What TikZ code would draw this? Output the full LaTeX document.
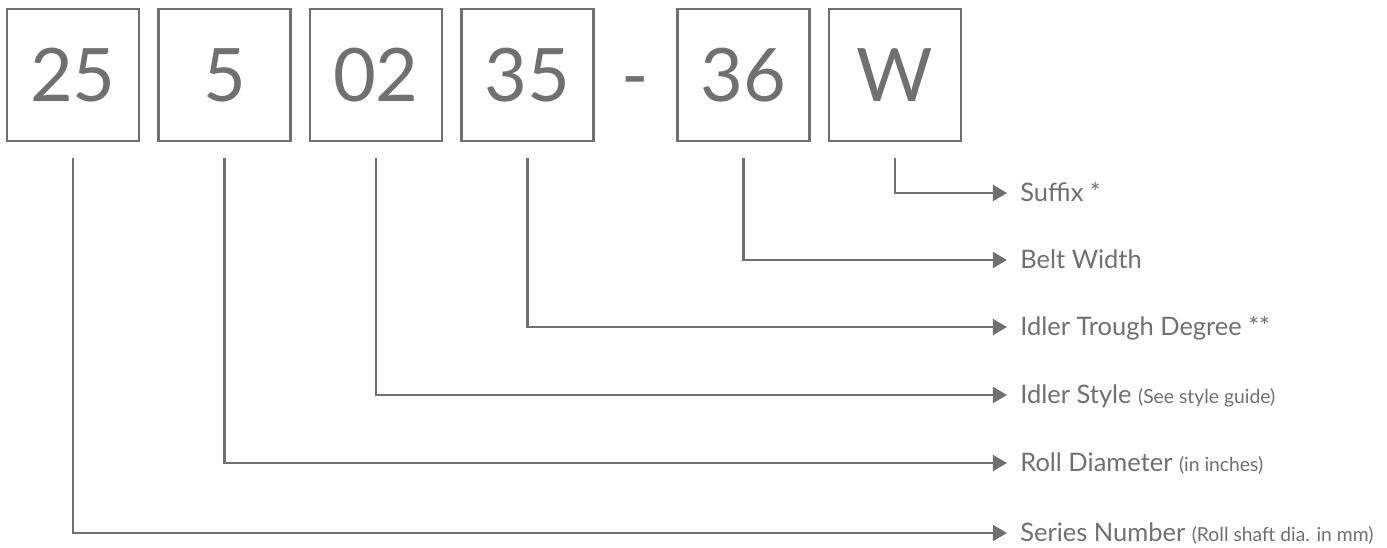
\documentclass[tikz,border=0pt]{standalone}
\usepackage{fontspec}
\setmainfont{Lato}
\usetikzlibrary{
  arrows.meta,
  positioning,  % Function "of" (e.g. [right=of x])
  calc,         % Calculations $...$
}
\definecolor{partgray}{HTML}{707070}
\def\boxsize{2.64cm}
\def\boxgap{0.34cm}
\def\leadgap{0.32cm}
\newcommand{\note}[1]{{\fontsize{11}{13}\selectfont #1}}
\tikzset{
  code box/.style={
    draw=partgray,
    line width=1.4pt,
    minimum size=\boxsize,
    inner sep=0pt,
    text=partgray,
    font=\fontsize{42}{48}\selectfont
  },
  code dash/.style={
    text=partgray,
    inner sep=0pt,
    anchor=base,
    font=\fontsize{42}{48}\selectfont
  },
  field/.style={
    anchor=west,
    text=partgray,
    inner xsep=0.26cm,
    inner ysep=0pt,
    text height=9.5pt,
    text depth=0pt,
    font=\fontsize{14.5}{17}\selectfont
  },
  lead/.style={
    draw=partgray,
    line width=1.4pt,
    -{Triangle[length=8pt,width=9pt]}
  }
}

\begin{document}
\begin{tikzpicture}[x=0.02cm,y=-0.02cm,node distance=\boxgap]
\useasboundingbox (0,0) rectangle (1387,548);
% code boxes
\node[code box] (b25)              at (73,75) {25};
\node[code box] (b5)  [right=of b25]           {5};
\node[code box] (b02) [right=of b5]            {02};
\node[code box] (b35) [right=of b02]           {35};
\node[code box] (b36) [right=1.64cm of b35]    {36};
\node[code box] (bW)  [right=of b36]           {W};
\node[code dash] (dash) at ($(b35.base east)!0.5!(b36.base west)$) {-};
% starts of the leads
\coordinate[below=\leadgap of b25] (s25);
\coordinate[below=\leadgap of b5]  (s5);
\coordinate[below=\leadgap of b02] (s02);
\coordinate[below=\leadgap of b35] (s35);
\coordinate[below=\leadgap of b36] (s36);
\coordinate[below=\leadgap of bW]  (sW);
% field names
\node[field] (suffix) at (1007,193) {Suffix *};
\node[field] (width)  at (1007,260) {Belt Width};
\node[field] (trough) at (1007,327) {Idler Trough Degree **};
\node[field] (style)  at (1007,395) {Idler Style \note{(See style guide)}};
\node[field] (diam)   at (1007,463) {Roll Diameter \note{(in inches)}};
\node[field] (series) at (1007,533) {Series Number \note{(Roll shaft dia. in mm)}};
\draw[lead] (sW)  |- (suffix.west);
\draw[lead] (s36) |- (width.west);
\draw[lead] (s35) |- (trough.west);
\draw[lead] (s02) |- (style.west);
\draw[lead] (s5)  |- (diam.west);
\draw[lead] (s25) |- (series.west);
\end{tikzpicture}
\end{document}
